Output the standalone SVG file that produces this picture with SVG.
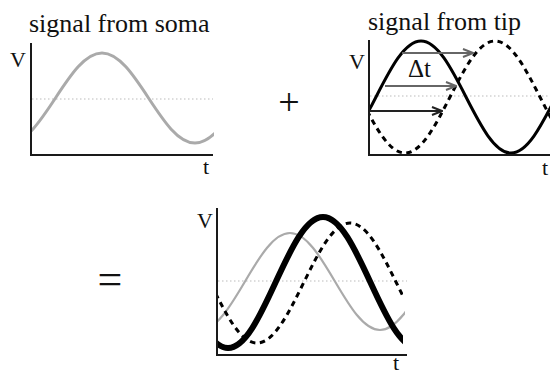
<svg xmlns="http://www.w3.org/2000/svg" width="550" height="376" viewBox="0 0 550 376">
<style>
text{font-family:"Liberation Serif","Times New Roman",serif;fill:#111}
.title{font-size:26px}
.lab{font-size:22px}
.axis{stroke:#1a1a1a;stroke-width:2;fill:none}
.mid{stroke:#bbb;stroke-width:1;stroke-dasharray:1.5 2.5;fill:none}
.soma{stroke:#aaa;stroke-width:3;fill:none}
.soma2{stroke:#aaa;stroke-width:2.2;fill:none}
.tip{stroke:#000;stroke-width:3;fill:none}
.sum{stroke:#000;stroke-width:6;fill:none}
.dash{stroke:#000;stroke-width:3;stroke-dasharray:5.5 4.5;fill:none}
.arr{stroke-width:2;fill:none}
</style>
<defs>
<clipPath id="c1"><rect x="31" y="0" width="183" height="376"/></clipPath>
<clipPath id="c2"><rect x="369" y="0" width="181" height="376"/></clipPath>
<clipPath id="c3a"><rect x="217" y="0" width="188" height="376"/></clipPath>
<clipPath id="c3b"><rect x="217" y="0" width="186" height="376"/></clipPath>
<marker id="ahg" markerWidth="12" markerHeight="10" refX="11" refY="5" orient="auto" markerUnits="userSpaceOnUse"><path d="M1,1 L11,5 L1,9" fill="none" stroke="#666" stroke-width="2"/></marker>
<marker id="ahk" markerWidth="12" markerHeight="10" refX="11" refY="5" orient="auto" markerUnits="userSpaceOnUse"><path d="M1,1 L11,5 L1,9" fill="none" stroke="#222" stroke-width="2"/></marker>
</defs>

<g id="panel-soma">
<text class="title" x="29" y="32">signal from soma</text>
<text class="lab" x="10" y="67">V</text>
<text class="lab" x="203" y="174">t</text>
<line class="mid" x1="32" y1="99" x2="213" y2="99"/>
<path class="soma" clip-path="url(#c1)" d="M9,143 c16.83,0 31.34,-21.95 46.5,-45 c15.16,-23.05 29.67,-45 46.5,-45 c16.83,0 31.34,21.95 46.5,45 c15.16,23.05 29.67,45 46.5,45 c16.83,0 31.34,-21.95 46.5,-45"/>
<path class="axis" d="M31,43 V155 H213"/>
</g>

<g id="plus"><text x="289" y="115" font-size="38" text-anchor="middle">+</text></g>

<g id="panel-tip">
<text class="title" x="368" y="30">signal from tip</text>
<text class="lab" x="349" y="69">V</text>
<text class="lab" x="542" y="175">t</text>
<line class="mid" x1="370" y1="96" x2="550" y2="96"/>
<path class="tip" clip-path="url(#c2)" d="M331,153 c16.29,0 30.33,-27.31 45,-56 c14.67,-28.69 28.71,-56 45,-56 c16.29,0 30.33,27.31 45,56 c14.67,28.69 28.71,56 45,56 c16.29,0 30.33,-27.31 45,-56"/>
<path class="dash" clip-path="url(#c2)" d="M315,41 c16.29,0 30.33,27.31 45,56 c14.67,28.69 28.71,56 45,56 c16.29,0 30.33,-27.31 45,-56 c14.67,-28.69 28.71,-56 45,-56 c16.29,0 30.33,27.31 45,56 c14.67,28.69 28.71,56 45,56"/>
<path class="axis" d="M369,40 V155 H550"/>
<text x="408" y="77" font-size="25">Δt</text>
</g>

<g id="connectors">
<line class="arr" stroke="#666" x1="402" y1="53" x2="473" y2="53" marker-end="url(#ahg)"/>
<line class="arr" stroke="#666" x1="385" y1="86" x2="456" y2="86" marker-end="url(#ahg)"/>
<line class="arr" stroke="#222" x1="370" y1="111" x2="442" y2="111" marker-end="url(#ahk)"/>
</g>

<g id="equals"><text x="110" y="294" font-size="44" text-anchor="middle">=</text></g>

<g id="panel-sum">
<text class="lab" x="197" y="228">V</text>
<text class="lab" x="393" y="370">t</text>
<line class="mid" x1="218" y1="281" x2="407" y2="281"/>
<path class="soma2" clip-path="url(#c3a)" d="M200,330 c16.29,0 30.33,-23.65 45,-48.5 c14.67,-24.85 28.71,-48.5 45,-48.5 c16.29,0 30.33,23.65 45,48.5 c14.67,24.85 28.71,48.5 45,48.5 c16.29,0 30.33,-23.65 45,-48.5"/>
<path class="dash" clip-path="url(#c3b)" d="M164,223 c16.83,0 31.34,29.26 46.5,60 c15.16,30.74 29.67,60 46.5,60 c16.83,0 31.34,-29.26 46.5,-60 c15.16,-30.74 29.67,-60 46.5,-60 c16.83,0 31.34,29.26 46.5,60 c15.16,30.74 29.67,60 46.5,60"/>
<path class="sum" clip-path="url(#c3b)" d="M180.5,282.5 c15.49,33.56 30.31,65.5 47.5,65.5 c17.19,0 32.01,-31.94 47.5,-65.5 c15.49,-33.56 30.31,-65.5 47.5,-65.5 c17.19,0 32.01,31.94 47.5,65.5 c15.49,33.56 30.31,65.5 47.5,65.5"/>
<path class="axis" d="M217,208 V355 H407"/>
</g>
</svg>
